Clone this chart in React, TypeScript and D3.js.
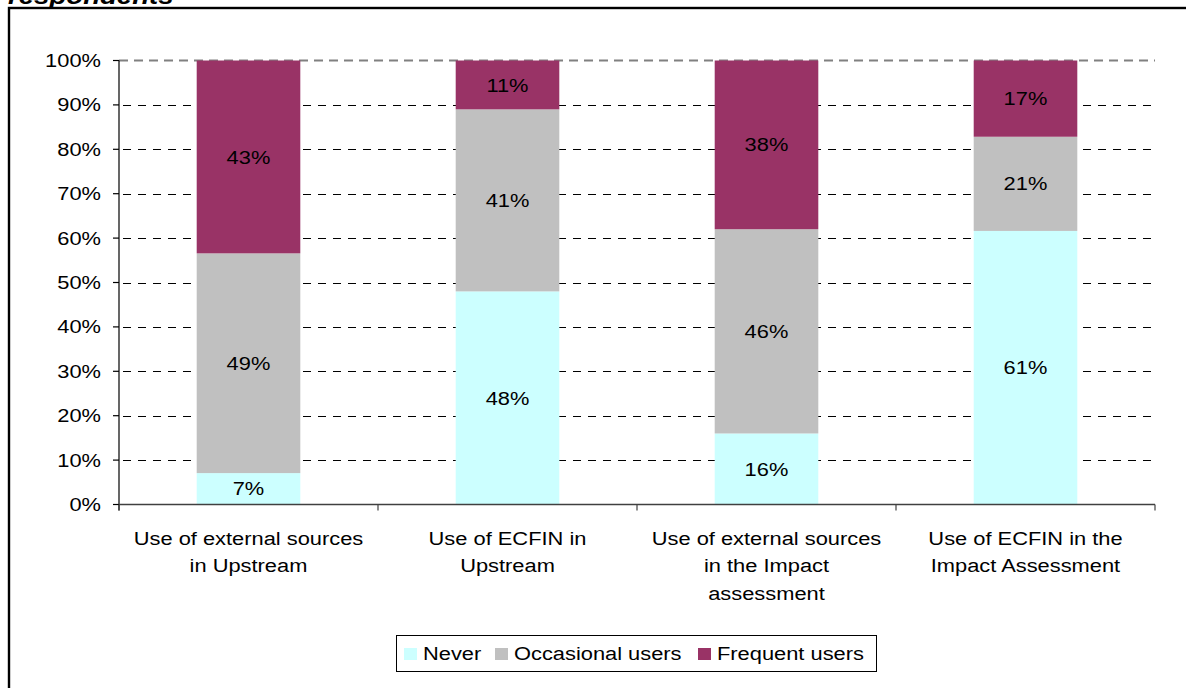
import React from "react";
import * as d3 from "d3";

// Share of respondents per usage level, by source and stage
const categories = [
  ["Use of external sources", "in Upstream"],
  ["Use of ECFIN in", "Upstream"],
  ["Use of external sources", "in the Impact", "assessment"],
  ["Use of ECFIN in the", "Impact Assessment"],
];
const never = [7, 48, 16, 61];
const occasional = [49, 41, 46, 21];
const frequent = [43, 11, 38, 17];
const seriesNames = ["Never", "Occasional users", "Frequent users"];
const seriesColors = ["#CCFFFF", "#C0C0C0", "#993366"];
const titleText = "respondents";

const W = 1186;
const H = 688;
const FONT = "'Liberation Sans', Arial, sans-serif";
const FS = 19;
const SX = 1.15; // horizontal text stretch

const plot = { left: 119, right: 1155, top: 60.5, bottom: 504.5 };

function Txt(props: {
  x: number;
  y: number;
  anchor?: "start" | "middle" | "end";
  size?: number;
  weight?: string;
  italic?: boolean;
  children: React.ReactNode;
}) {
  const { x, y, anchor = "middle", size = FS, weight = "normal", italic = false, children } = props;
  return (
    <text
      x={x}
      y={y}
      textAnchor={anchor}
      fontFamily={FONT}
      fontSize={size}
      fontWeight={weight}
      fontStyle={italic ? "italic" : "normal"}
      fill="#000"
      transform={`translate(${x},0) scale(${SX},1) translate(${-x},0)`}
    >
      {children}
    </text>
  );
}

export default function App() {
  const rows = categories.map((c, i) => ({
    key: i,
    [seriesNames[0]]: never[i],
    [seriesNames[1]]: occasional[i],
    [seriesNames[2]]: frequent[i],
  }));
  const raw = [never, occasional, frequent];

  const stacked = d3
    .stack<any>()
    .keys(seriesNames)
    .offset(d3.stackOffsetExpand)(rows);

  const x = d3
    .scaleBand<number>()
    .domain(categories.map((_, i) => i))
    .range([plot.left, plot.right])
    .paddingInner(0.6)
    .paddingOuter(0.3);
  const step = x.step();

  const y = d3.scaleLinear().domain([0, 1]).range([plot.bottom, plot.top]);
  const yTicks = y.ticks(10);
  const fmt = d3.format(".0%");

  const boundaries = d3.range(categories.length + 1).map((i) => plot.left + i * step);

  const legendX = [404, 495, 698];

  return (
    <svg width={W} height={H} style={{ position: "absolute", left: 0, top: 0, background: "#fff" }}>
      <rect x={0} y={0} width={W} height={H} fill="#fff" />
      <Txt x={8} y={4} anchor="start" size={24} weight="bold" italic>
        {titleText}
      </Txt>
      <rect x={9} y={8} width={1300} height={800} fill="none" stroke="#000" strokeWidth={2.4} />

      {/* gridlines */}
      {yTicks.filter((t) => t > 0 && t < 1).map((t) => (
        <line
          key={t}
          x1={plot.left}
          x2={plot.right}
          y1={Math.round(y(t)) + 0.5}
          y2={Math.round(y(t)) + 0.5}
          stroke="#000"
          strokeWidth={1}
          strokeDasharray="8,7"
          strokeDashoffset={-4}
        />
      ))}
      <line
        x1={plot.left}
        x2={plot.right}
        y1={y(1)}
        y2={y(1)}
        stroke="#808080"
        strokeWidth={2}
        strokeDasharray="9,6"
      />

      {/* bars */}
      {stacked.map((s, si) =>
        s.map((d, i) => (
          <rect
            key={`${si}-${i}`}
            x={x(i)}
            width={x.bandwidth()}
            y={y(d[1])}
            height={y(d[0]) - y(d[1])}
            fill={seriesColors[si]}
          />
        ))
      )}
      {stacked.map((s, si) =>
        s.map((d, i) => (
          <Txt key={`l${si}-${i}`} x={(x(i) as number) + x.bandwidth() / 2} y={(y(d[0]) + y(d[1])) / 2 + 6.6}>
            {raw[si][i]}%
          </Txt>
        ))
      )}

      {/* y axis */}
      <line x1={plot.left} x2={plot.left} y1={plot.top} y2={plot.bottom + 6} stroke="#000" strokeWidth={1.2} />
      {yTicks.map((t) => (
        <g key={t}>
          <line x1={plot.left - 6} x2={plot.left} y1={y(t)} y2={y(t)} stroke="#000" strokeWidth={1.2} />
          <Txt x={101} y={y(t) + 6.6} anchor="end">
            {fmt(t)}
          </Txt>
        </g>
      ))}

      {/* x axis */}
      <line x1={plot.left} x2={plot.right} y1={plot.bottom} y2={plot.bottom} stroke="#404040" strokeWidth={1.5} />
      {boundaries.map((b, i) => (
        <line key={i} x1={b} x2={b} y1={plot.bottom} y2={plot.bottom + 6} stroke="#404040" strokeWidth={1.2} />
      ))}
      {categories.map((lines, i) =>
        lines.map((ln, li) => (
          <Txt key={`c${i}-${li}`} x={(x(i) as number) + x.bandwidth() / 2} y={plot.bottom + 40.5 + li * 27.5}>
            {ln}
          </Txt>
        ))
      )}

      {/* legend */}
      <rect x={396.5} y={635.5} width={480} height={36} fill="#fff" stroke="#000" strokeWidth={1} />
      {seriesNames.map((n, i) => (
        <g key={n}>
          <rect x={legendX[i]} y={648} width={13} height={12} fill={seriesColors[i]} />
          <Txt x={legendX[i] + 19} y={660.5} anchor="start">
            {n}
          </Txt>
        </g>
      ))}
    </svg>
  );
}
